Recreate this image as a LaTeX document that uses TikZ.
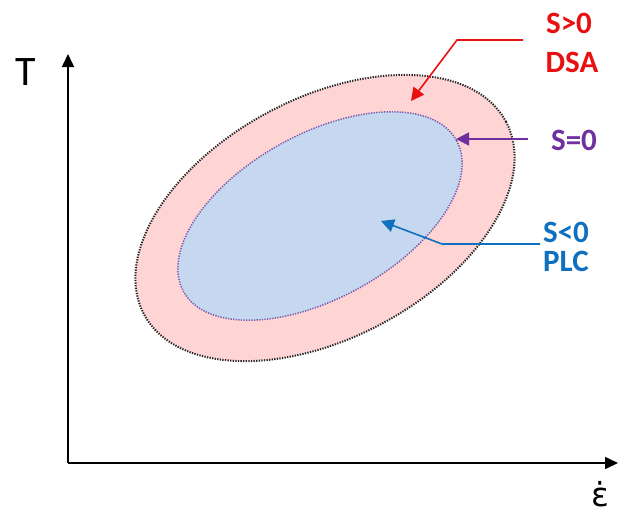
\documentclass[tikz,border=0pt]{standalone}
\usepackage{fontspec}
\setmainfont{Carlito}
\newfontfamily\epsfont{DejaVu Sans}
\usetikzlibrary{arrows.meta}
\definecolor{dsared}{RGB}{232,16,16}
\definecolor{szpurple}{RGB}{112,48,160}
\definecolor{plcblue}{RGB}{16,112,192}
\definecolor{pinkfill}{RGB}{255,212,212}
\definecolor{bluefill}{RGB}{198,216,240}
\definecolor{innerline}{RGB}{120,90,170}
\tikzset{
  axisline/.style={line width=1.6pt,-{Triangle[length=13pt,width=12pt]}},
  lbl/.style={font=\fontsize{31}{36}\selectfont\bfseries,inner sep=0pt},
  axlbl/.style={font=\fontsize{42}{46}\selectfont,inner sep=0pt},
  pointer/.style={line width=1.6pt,-{Triangle[length=13pt,width=13pt]}},
  dotborder/.style={line width=2pt,dash pattern=on 1.3pt off 1.3pt}
}
\begin{document}
\begin{tikzpicture}[x=1pt,y=-1pt]
\useasboundingbox (0,0) rectangle (619,515);
% axes
\coordinate (O) at (68,463);
\coordinate (Ytip) at (68,54);
\coordinate (Xtip) at (618,463);
\draw[axisline] (O) -- (Ytip);
\draw[axisline] (O) -- (Xtip);
\node[axlbl] (T) at (26,72) {T};
\node[font=\epsfont\fontsize{33}{36}\selectfont,inner sep=0pt] (eps) at (600,494) {ε̇};
% ellipses
\fill[pinkfill,shift={(325,218)},rotate=28] (0,0) ellipse [x radius=205pt,y radius=120pt];
\draw[dotborder,black!85,shift={(325,218)},rotate=28] (0,0) ellipse [x radius=205pt,y radius=120pt];
\fill[bluefill,shift={(320,216)},rotate=29] (0,0) ellipse [x radius=156pt,y radius=82pt];
\draw[dotborder,innerline,line width=1.5pt,shift={(320,216)},rotate=29] (0,0) ellipse [x radius=156pt,y radius=82pt];
% labels
\node[lbl,text=dsared] (sgt) at (569,23) {S>0};
\node[lbl,text=dsared] (dsa) at (572,62) {DSA};
\node[lbl,text=szpurple] (seq) at (574,140) {S=0};
\node[lbl,text=plcblue] (slt) at (566,232) {S<0};
\node[lbl,text=plcblue] (plc) at (566,261) {PLC};
% pointers
\coordinate (r1) at (523,40);
\coordinate (r2) at (457,40);
\coordinate (r3) at (411,101);
\draw[pointer,dsared,line join=round] (r1) -- (r2) -- (r3);
\coordinate (p1) at (528,139);
\coordinate (p2) at (456,139);
\draw[pointer,szpurple] (p1) -- (p2);
\coordinate (b1) at (540,244);
\coordinate (b2) at (442,244);
\coordinate (b3) at (381,221);
\draw[pointer,plcblue,line join=round] (b1) -- (b2) -- (b3);
\end{tikzpicture}
\end{document}
